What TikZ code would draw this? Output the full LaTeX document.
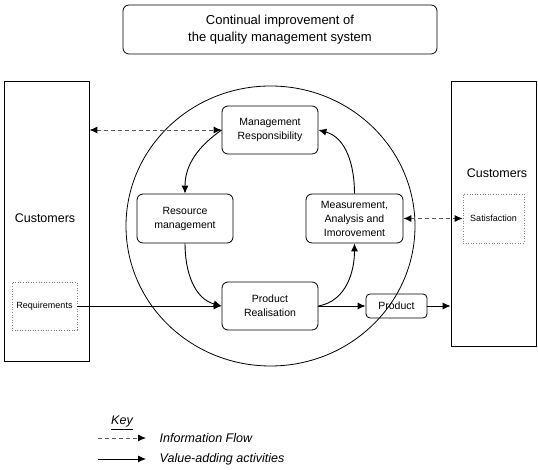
\documentclass[tikz,border=0pt]{standalone}
\usepackage{fontspec}
\setmainfont{Liberation Sans}
\usetikzlibrary{arrows.meta}
\begin{document}
\begin{tikzpicture}[x=1pt, y=1pt, line width=0.8pt,
    box/.style={draw, rounded corners=6pt, align=center, inner sep=0pt, font=\fontsize{10.5}{14}\selectfont},
    dotbox/.style={draw=gray, dotted, line width=0.6pt, inner sep=0pt, font=\fontsize{9}{11}\selectfont},
    flow/.style={-{Latex[length=8pt,width=7pt]}, line width=0.9pt},
    info/.style={{Latex[length=8pt,width=7pt,color=black]}-{Latex[length=8pt,width=7pt,color=black]}, dash pattern=on 4pt off 3pt, black!65, line width=0.9pt},
    bigtxt/.style={font=\fontsize{12.5}{15}\selectfont}]
    \useasboundingbox (0,0) rectangle (538,470);
    \node[box, minimum width=314pt, minimum height=49pt, font=\fontsize{13}{17}\selectfont] (cqi) at (280,440.5) {Continual improvement of\\the quality management system};
    \node[draw, minimum width=85pt, minimum height=280pt, inner sep=0pt] (custL) at (46.5,249) {};
    \node[draw, minimum width=85pt, minimum height=265pt, inner sep=0pt] (custR) at (493.5,256.5) {};
    \node[bigtxt] (custLtxt) at (45,252) {Customers};
    \node[bigtxt] (custRtxt) at (497,297) {Customers};
    \node[dotbox, minimum width=65pt, minimum height=48pt] (req) at (44.5,164) {Requirements};
    \node[dotbox, minimum width=61pt, minimum height=49pt] (sat) at (493.5,251.5) {Satisfaction};
    \draw (270.5,244) ellipse (144.5 and 140);
    \node[box, minimum width=96pt, minimum height=48pt] (mr) at (270,340) {Management\\Responsibility};
    \node[box, minimum width=96pt, minimum height=49pt] (rm) at (185,251.5) {Resource\\management};
    \node[box, minimum width=97pt, minimum height=49pt] (mai) at (354.5,251.5) {Measurement,\\Analysis and\\Imorovement};
    \node[box, minimum width=96pt, minimum height=48pt] (pr) at (270,164) {Product\\Realisation};
    \node[box, minimum width=61pt, minimum height=24pt, rounded corners=4pt] (prod) at (396.5,164) {Product};
    \draw[info] (custL.east |- mr.west) -- (mr.west);
    \draw[info] (mai.east) -- (sat.west);
    \draw[flow] (mr.west) to[out=215, in=90] (rm.north);
    \draw[flow] (rm.south) to[out=-90, in=165] (pr.west);
    \draw[flow] (req.east) -- (pr.west);
    \draw[flow] (pr.east) to[out=10, in=-90] (mai.south);
    \draw[flow] (mai.north) to[out=90, in=-15] (mr.east);
    \draw[flow] (pr.east) -- (prod.west);
    \draw[flow] (prod.east) -- (prod.east -| custR.west);
    \node[bigtxt, font=\fontsize{12.5}{15}\selectfont\itshape] (key) at (122,47) {\underline{Key}};
    \coordinate (k1a) at (98,32);
    \coordinate (k1b) at (146,32);
    \coordinate (k2a) at (98,11);
    \coordinate (k2b) at (146,11);
    \draw[info, -{Latex[length=8pt,width=7pt,color=black]}] (k1a) -- (k1b);
    \draw[flow] (k2a) -- (k2b);
    \node[bigtxt, font=\fontsize{12.5}{15}\selectfont\itshape, anchor=west] (kinfo) at (156,32) {Information Flow};
    \node[bigtxt, font=\fontsize{12.5}{15}\selectfont\itshape, anchor=west] (kval) at (156,11) {Value-adding activities};
\end{tikzpicture}
\end{document}
